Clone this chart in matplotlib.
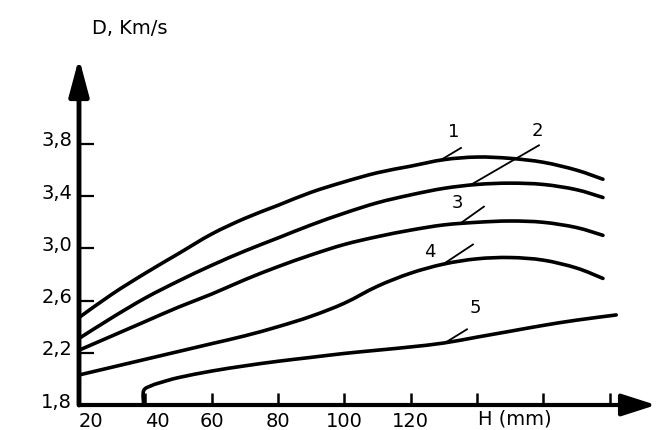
import matplotlib.pyplot as plt
import numpy as np
from matplotlib import transforms
from matplotlib.path import Path
from matplotlib.patches import PathPatch

# H (mm) grid shared by curves 1-4
h_vals = [20, 30, 40, 50, 60, 70, 80, 90, 100, 110, 120, 130, 140, 150, 160, 170, 178]
curve1 = [2.47, 2.65, 2.81, 2.96, 3.11, 3.23, 3.33, 3.43, 3.51, 3.58, 3.63, 3.68, 3.70, 3.69, 3.66, 3.60, 3.53]
curve2 = [2.31, 2.47, 2.62, 2.75, 2.87, 2.98, 3.08, 3.18, 3.27, 3.35, 3.41, 3.46, 3.49, 3.50, 3.49, 3.45, 3.39]
curve3 = [2.22, 2.33, 2.44, 2.55, 2.65, 2.76, 2.86, 2.95, 3.03, 3.09, 3.14, 3.18, 3.20, 3.21, 3.20, 3.16, 3.10]
curve4 = [2.03, 2.09, 2.15, 2.21, 2.27, 2.33, 2.40, 2.48, 2.58, 2.71, 2.81, 2.88, 2.92, 2.93, 2.91, 2.85, 2.77]

# curve 5 starts later, with a short vertical rise off the axis
h5 = [39.5, 39.5, 42, 45, 50, 60, 70, 80, 90, 100, 110, 120, 130, 140, 150, 160, 170, 182]
curve5 = [1.80, 1.91, 1.95, 1.975, 2.01, 2.06, 2.10, 2.135, 2.165, 2.195, 2.22, 2.245, 2.275, 2.32, 2.365, 2.41, 2.45, 2.49]

curve_names = ['1', '2', '3', '4', '5']
label_h = [133.1, 158.1, 134.0, 125.8, 139.4]
label_d = [3.89, 3.90, 3.35, 2.97, 2.54]
leader_h0 = [135.2, 158.7, 142.1, 138.8, 137.0]
leader_d0 = [3.77, 3.79, 3.32, 3.03, 2.38]
leader_h1 = [128.9, 137.9, 134.9, 129.8, 130.4]

y_ticks = [1.8, 2.2, 2.6, 3.0, 3.4, 3.8]
x_ticks = [20, 40, 60, 80, 100, 120, 140, 160, 180]
x_labels = ['20', '40', '60', '80', '100', '120', '', '', '']


def smooth_path(xs, ys):
    # catmull-rom through the points, drawn as cubic bezier segments
    p = np.column_stack([xs, ys]).astype(float)
    verts = [p[0]]
    codes = [Path.MOVETO]
    n = len(p)
    for i in range(n - 1):
        p0 = p[i - 1] if i > 0 else p[i]
        p3 = p[i + 2] if i + 2 < n else p[i + 1]
        c1 = p[i] + (p[i + 1] - p0) / 6
        c2 = p[i + 1] - (p3 - p[i]) / 6
        verts += [c1, c2, p[i + 1]]
        codes += [Path.CURVE4] * 3
    return Path(verts, codes)


fig = plt.figure(figsize=(6.58, 4.3), dpi=100)
ax = fig.add_axes([79 / 658, 25 / 430, 577 / 658, 347 / 430])

curves = [(h_vals, curve1), (h_vals, curve2), (h_vals, curve3), (h_vals, curve4), (h5, curve5)]
for hs, ds in curves:
    ax.add_patch(PathPatch(smooth_path(hs, ds), fill=False, edgecolor='black',
                           lw=2.6, capstyle='round', joinstyle='round', clip_on=False))

# curve numbers with their leader strokes
for i, (hs, ds) in enumerate(curves):
    d_end = np.interp(leader_h1[i], hs, ds)
    ax.plot([leader_h0[i], leader_h1[i]], [leader_d0[i], d_end], color='black', lw=1.3)
    ax.text(label_h[i], label_d[i], curve_names[i], fontsize=13,
            ha='center', va='center')

ax.set_xlim(20, 194)
ax.set_ylim(1.8, 1.8 + 347 / 130.5)

for s in ax.spines.values():
    s.set_visible(False)

# axes drawn as arrows
ax.annotate('', xy=(1, 0), xytext=(0, 0), xycoords='axes fraction',
            arrowprops=dict(arrowstyle='-|>,head_length=1.4,head_width=0.45',
                            lw=3, color='black', shrinkA=0, shrinkB=0,
                            mutation_scale=15))
ax.annotate('', xy=(0, 1), xytext=(0, 0), xycoords='axes fraction',
            arrowprops=dict(arrowstyle='-|>,head_length=1.5,head_width=0.4',
                            lw=3.5, color='black', shrinkA=0, shrinkB=0,
                            mutation_scale=15))

ax.set_yticks(y_ticks)
ax.set_yticklabels([f'{v:.1f}'.replace('.', ',') for v in y_ticks])
ax.set_xticks(x_ticks)
ax.set_xticklabels(x_labels)
ax.tick_params(axis='x', direction='in', length=9, width=1.8, labelsize=14, pad=5)
ax.tick_params(axis='y', direction='in', length=11, width=1.6, labelsize=14, pad=5)

up = transforms.ScaledTranslation(0, 0.05, fig.dpi_scale_trans)
for lbl in ax.get_yticklabels():
    lbl.set_transform(lbl.get_transform() + up)
for lbl in ax.get_xticklabels()[:2]:
    lbl.set_ha('left')

ax.text(151.5, 1.695, 'H (mm)', fontsize=14, ha='center', va='center', clip_on=False)
fig.text(130 / 658, 1 - 28 / 430, 'D, Km/s', fontsize=14, ha='center', va='center')

fig.savefig('out.png', dpi=100)
